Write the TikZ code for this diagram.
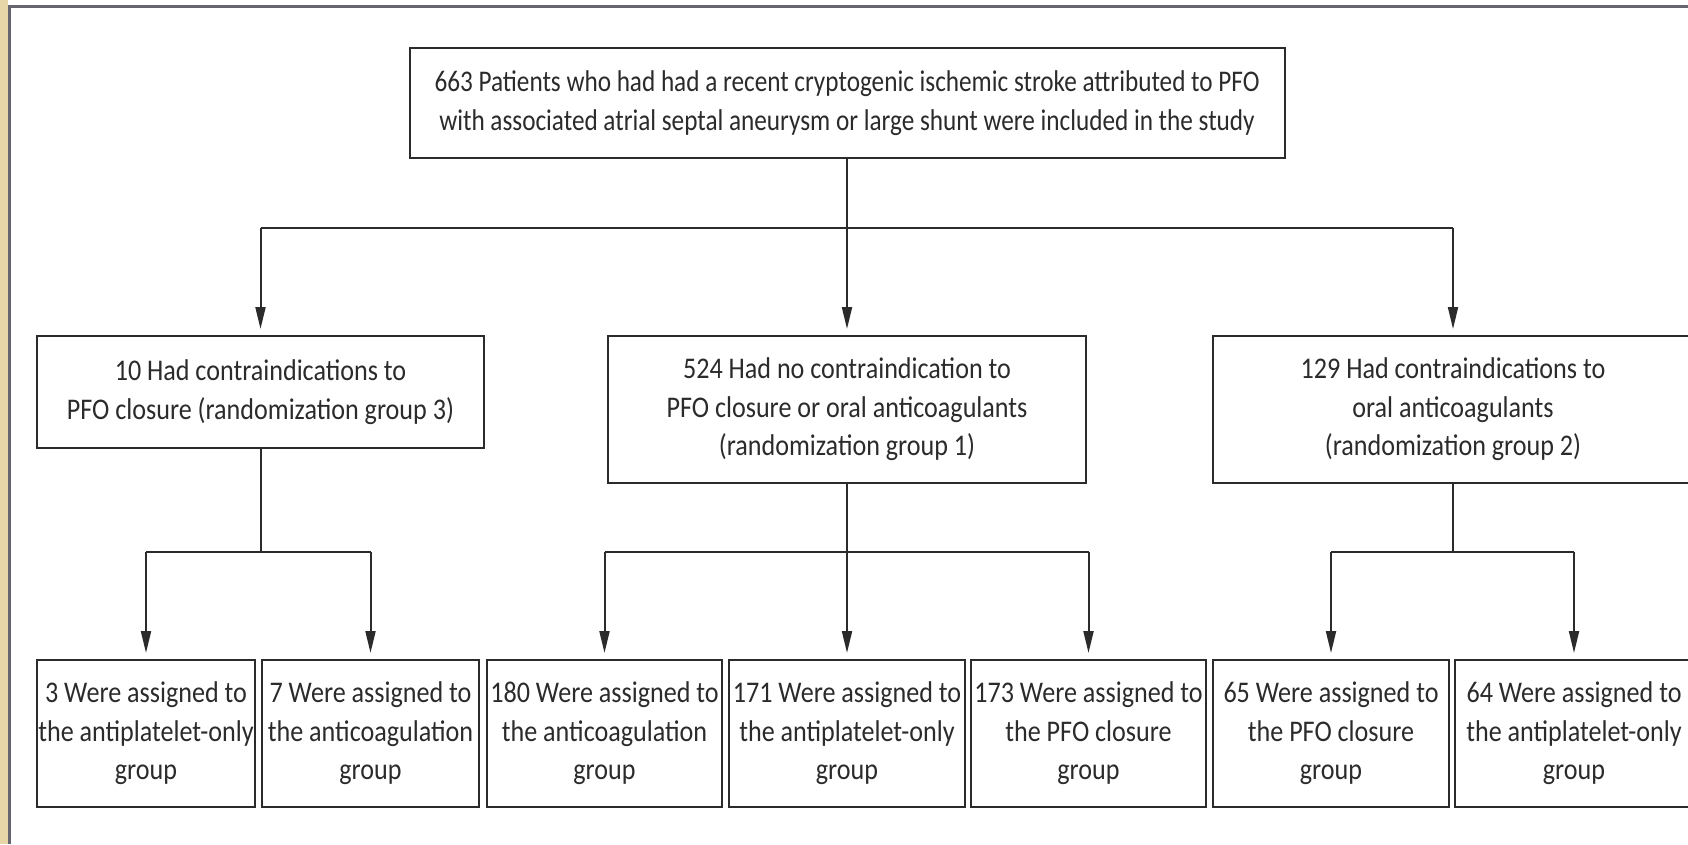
\documentclass[tikz,border=0pt]{standalone}
\usepackage{fontspec}
\setmainfont{Carlito}[FakeStretch=0.87]
\usetikzlibrary{arrows.meta}
\definecolor{ink}{HTML}{2B2B2B}
\definecolor{frame}{HTML}{66666E}
\definecolor{beige}{HTML}{E6D6A8}
\tikzset{
  box/.style={draw=ink, line width=2pt, align=center, text=ink, inner sep=0pt,
    font=\fontsize{30}{38.5}\selectfont},
  link/.style={draw=ink, line width=2pt},
  arr/.style={link, -{Triangle[width=10pt,length=22pt]}, shorten >=6pt}
}
\begin{document}
\begin{tikzpicture}[x=1pt,y=-1pt]
\useasboundingbox (0,0) rectangle (1688,844);
\fill[white] (0,0) rectangle (1688,844);
\fill[beige] (0,0) rectangle (8,844);
\fill[frame] (8,5) rectangle (11,844);
\fill[frame] (8,5) rectangle (1688,8);

\node[box, minimum width=875pt, minimum height=110pt, font=\fontsize{30}{39}\selectfont] (top) at (847,103)
  {\scalebox{0.966}[1]{663 Patients who had had a recent cryptogenic ischemic stroke attributed to PFO}\\
   \scalebox{0.966}[1]{with associated atrial septal aneurysm or large shunt were included in the study}};

\node[box, minimum width=447pt, minimum height=112pt] (L) at (260.5,392)
  {10 Had contraindications to\\PFO closure (randomization group 3)};
\node[box, minimum width=478pt, minimum height=147pt] (C) at (847,409.5)
  {524 Had no contraindication to\\PFO closure or oral anticoagulants\\(randomization group 1)};
\node[box, minimum width=480pt, minimum height=147pt] (R) at (1453,409.5)
  {129 Had contraindications to\\oral anticoagulants\\(randomization group 2)};

\node[box, minimum width=218pt, minimum height=147pt] (b1) at (146,733.5)
  {3 Were assigned to\\the antiplatelet-only\\group};
\node[box, minimum width=217pt, minimum height=147pt] (b2) at (370.5,733.5)
  {7 Were assigned to\\the anticoagulation\\group};
\node[box, minimum width=235pt, minimum height=147pt] (b3) at (604.5,733.5)
  {180 Were assigned to\\the anticoagulation\\group};
\node[box, minimum width=236pt, minimum height=147pt] (b4) at (847,733.5)
  {171 Were assigned to\\the antiplatelet-only\\group};
\node[box, minimum width=235pt, minimum height=147pt] (b5) at (1088.5,733.5)
  {173 Were assigned to\\the PFO closure\\group};
\node[box, minimum width=236pt, minimum height=147pt] (b6) at (1331,733.5)
  {65 Were assigned to\\the PFO closure\\group};
\node[box, minimum width=238pt, minimum height=147pt] (b7) at (1574,733.5)
  {64 Were assigned to\\the antiplatelet-only\\group};

\coordinate (lv1) at (0,228);
\coordinate (lv2) at (0,552);

% level 1
\draw[link] (top.south) -- (top.south |- lv1);
\draw[link] (L.north |- lv1) -- (R.north |- lv1);
\draw[arr] (L.north |- lv1) -- (L.north);
\draw[arr] (top.south |- lv1) -- (C.north);
\draw[arr] (R.north |- lv1) -- (R.north);

% group 3
\draw[link] (L.south) -- (L.south |- lv2);
\draw[link] (b1.north |- lv2) -- (b2.north |- lv2);
\draw[arr] (b1.north |- lv2) -- (b1.north);
\draw[arr] (b2.north |- lv2) -- (b2.north);

% group 1
\draw[link] (C.south) -- (C.south |- lv2);
\draw[link] (b3.north |- lv2) -- (b5.north |- lv2);
\draw[arr] (b3.north |- lv2) -- (b3.north);
\draw[arr] (C.south |- lv2) -- (b4.north);
\draw[arr] (b5.north |- lv2) -- (b5.north);

% group 2
\draw[link] (R.south) -- (R.south |- lv2);
\draw[link] (b6.north |- lv2) -- (b7.north |- lv2);
\draw[arr] (b6.north |- lv2) -- (b6.north);
\draw[arr] (b7.north |- lv2) -- (b7.north);
\end{tikzpicture}
\end{document}
